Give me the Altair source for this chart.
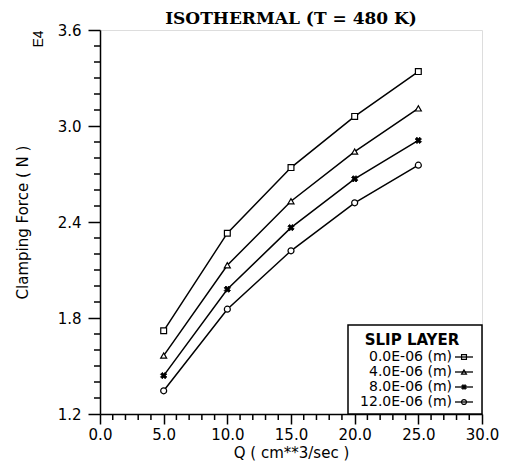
import altair as alt
import pandas as pd

# ---- data ----
q_values = [5.0, 10.0, 15.0, 20.0, 25.0]
slip_labels = ["0.0E-06 (m)", "4.0E-06 (m)", "8.0E-06 (m)", "12.0E-06 (m)"]
force_0 = [1.72, 2.33, 2.74, 3.06, 3.34]
force_4 = [1.565, 2.13, 2.53, 2.84, 3.11]
force_8 = [1.44, 1.98, 2.365, 2.67, 2.91]
force_12 = [1.345, 1.855, 2.22, 2.52, 2.755]
x_major = [0.0, 5.0, 10.0, 15.0, 20.0, 25.0, 30.0]
y_major = [1.2, 1.8, 2.4, 3.0, 3.6]
x_minor = [float(v) for v in range(0, 31) if v % 5 != 0]
y_minor = [1.3, 1.4, 1.5, 1.6, 1.7, 1.9, 2.0, 2.1, 2.2, 2.3, 2.5, 2.6, 2.7, 2.8, 2.9,
           3.1, 3.2, 3.3, 3.4, 3.5]
title_text = "ISOTHERMAL (T = 480 K)"
legend_title = "SLIP LAYER"
x_title = "Q ( cm**3/sec )"
y_title = "Clamping Force ( N )"
exp_text = "E4"

W, H = 382, 384
SANS = "DejaVu Sans"

series = [force_0, force_4, force_8, force_12]
marker_props = [
    dict(shape="square", filled=True, fill="white", stroke="black", strokeWidth=1.2, size=34),
    dict(shape="triangle-up", filled=True, fill="white", stroke="black", strokeWidth=1.2, size=36),
    dict(shape="cross", filled=True, fill="black", stroke="black", strokeWidth=0.8, size=40, angle=45),
    dict(shape="circle", filled=True, fill="white", stroke="black", strokeWidth=1.2, size=36),
]

xscale = alt.Scale(domain=[0, 30], nice=False, zero=False)
yscale = alt.Scale(domain=[1.2, 3.6], nice=False, zero=False)

xaxis = alt.Axis(values=x_major, format=".1f", tickSize=10, tickWidth=1.5, tickColor="black",
                 labelFlush=False, labelOverlap=False,
                 domainColor="black", domainWidth=1.5, labelFont=SANS, labelFontSize=15,
                 labelColor="black", labelPadding=3, title=x_title, titleFont=SANS,
                 titleFontSize=15, titleFontWeight="normal", titleColor="black",
                 titleX=W / 2, titleY=43, titleBaseline="alphabetic", titleAlign="center",
                 grid=False)
yaxis = alt.Axis(values=y_major, format=".1f", tickSize=12, tickWidth=1.5, tickColor="black",
                 labelFlush=False, labelOverlap=False,
                 domainColor="black", domainWidth=1.5, labelFont=SANS, labelFontSize=15,
                 labelColor="black", labelPadding=7, title=y_title, titleFont=SANS,
                 titleFontSize=15, titleFontWeight="normal", titleColor="black",
                 titleX=-78, titleY=H / 2, titleAngle=-90, titleBaseline="middle",
                 titleAlign="center", grid=False)

layers = []
for i, (vals, lab) in enumerate(zip(series, slip_labels)):
    df = pd.DataFrame({"Q": q_values, "F": vals, "slip": lab})
    base = alt.Chart(df)
    if i == 0:
        enc_x = alt.X("Q:Q", scale=xscale, axis=xaxis)
        enc_y = alt.Y("F:Q", scale=yscale, axis=yaxis)
    else:
        enc_x = alt.X("Q:Q", scale=xscale)
        enc_y = alt.Y("F:Q", scale=yscale)
    layers.append(base.mark_line(color="black", strokeWidth=1.5).encode(x=enc_x, y=enc_y))

for i, (vals, lab) in enumerate(zip(series, slip_labels)):
    df = pd.DataFrame({"Q": q_values, "F": vals, "slip": lab})
    layers.append(alt.Chart(df).mark_point(opacity=1, **marker_props[i]).encode(
        x=alt.X("Q:Q", scale=xscale), y=alt.Y("F:Q", scale=yscale)))

# minor ticks (outward, shorter than the major ones)
xm = pd.DataFrame({"Q": x_minor})
layers.append(alt.Chart(xm).mark_rule(color="black", strokeWidth=1.5).encode(
    x=alt.X("Q:Q", scale=xscale), y=alt.value(H), y2=alt.value(H + 6)))
ym = pd.DataFrame({"F": y_minor})
layers.append(alt.Chart(ym).mark_rule(color="black", strokeWidth=1.5).encode(
    y=alt.Y("F:Q", scale=yscale), x=alt.value(-6), x2=alt.value(0)))

# exponent label of the y axis, just left of the top tick label
layers.append(alt.Chart(pd.DataFrame({"e": [exp_text]})).mark_text(
    fontSize=14, angle=270, color="black"
).encode(text="e:N", x=alt.value(-61), y=alt.value(9)))

# chart title as text
layers.append(alt.Chart(pd.DataFrame({"t": [title_text]})).mark_text(
    font="DejaVu Serif", fontSize=17, fontWeight="bold", align="center",
    baseline="alphabetic", color="black"
).encode(text="t:N", x=alt.value(W / 2), y=alt.value(-6)))

# legend box
LX0, LX1, LY0, LY1 = 248, W, 295, H
layers.append(alt.Chart(pd.DataFrame({"a": [0]})).mark_rect(
    fill="white", stroke="black", strokeWidth=1.5).encode(
    x=alt.value(LX0), x2=alt.value(LX1), y=alt.value(LY0), y2=alt.value(LY1)))
layers.append(alt.Chart(pd.DataFrame({"t": [legend_title]})).mark_text(
    font=SANS, fontSize=15, fontWeight="bold", align="center", baseline="middle", color="black"
).encode(text="t:N", x=alt.value((LX0 + LX1) / 2 - 3), y=alt.value(LY0 + 15)))
for i, lab in enumerate(slip_labels):
    ry = LY0 + 32 + i * 15
    layers.append(alt.Chart(pd.DataFrame({"t": [lab]})).mark_text(
        font=SANS, fontSize=14, align="right", baseline="middle", color="black"
    ).encode(text="t:N", x=alt.value(LX1 - 30), y=alt.value(ry)))
    layers.append(alt.Chart(pd.DataFrame({"t": [lab]})).mark_rule(
        color="black", strokeWidth=1.3).encode(
        x=alt.value(LX1 - 27), x2=alt.value(LX1 - 9), y=alt.value(ry)))
    mp = dict(marker_props[i])
    if mp.get("fill") == "white":
        mp["filled"] = False
        mp.pop("fill")
    mp["size"] = 24
    layers.append(alt.Chart(pd.DataFrame({"t": [lab]})).mark_point(opacity=1, **mp).encode(
        x=alt.value(LX1 - 18), y=alt.value(ry)))

chart = alt.layer(*layers).properties(
    width=W, height=H,
    autosize=alt.AutoSizeParams(type="none"),
    padding={"left": 92, "top": 22, "right": 20, "bottom": 47},
).configure_view(stroke="black", strokeWidth=1.5).configure(background="white")

chart.save("out.html", embed_options={"renderer": "svg", "actions": False})
